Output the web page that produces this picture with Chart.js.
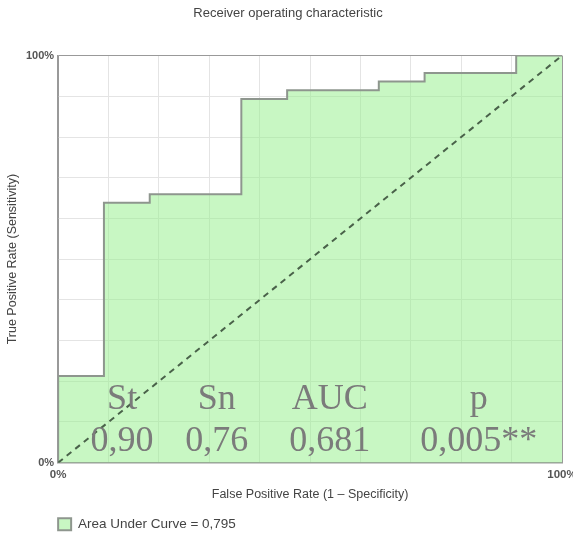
<!DOCTYPE html>
<html>
<head>
<meta charset="utf-8">
<script src="https://cdn.jsdelivr.net/npm/chart.js@4/dist/chart.umd.min.js"></script>
<style>
  html, body { margin: 0; padding: 0; background: #fff; }
  #wrap { width: 573px; height: 533px; }
</style>
</head>
<body>
<div id="wrap"><canvas id="chart"></canvas></div>
<script>
// ROC curve corners (percent), 11 negatives / 47 positives
var fpr = [0, 0, 9.09, 9.09, 18.18, 18.18, 36.36, 36.36, 45.45, 45.45, 63.64, 63.64, 72.73, 72.73, 90.91, 90.91, 100];
var tpr = [0, 21.28, 21.28, 63.83, 63.83, 65.96, 65.96, 89.36, 89.36, 91.49, 91.49, 93.62, 93.62, 95.74, 95.74, 100, 100];
var chanceX = [0, 100];
var chanceY = [0, 100];
var tickLabels = ['0%', '100%'];
var statNames = ['St', 'Sn', 'AUC', 'p'];
var statValues = ['0,90', '0,76', '0,681', '0,005**'];
var statCentersX = [12.7, 31.5, 53.9, 83.5]; // in % of false positive rate axis

var fontFamily = '"Liberation Sans", Arial, sans-serif';

// big serif stats written over the plot
var statsPlugin = {
    id: 'stats',
    afterDatasetsDraw: function(chart) {
        var ctx = chart.ctx;
        var xs = chart.scales.x;
        var ys = chart.scales.y;
        ctx.save();
        ctx.fillStyle = '#7b7b7b';
        ctx.font = '36px "Liberation Serif", "Times New Roman", serif';
        ctx.textAlign = 'center';
        ctx.textBaseline = 'alphabetic';
        for (var i = 0; i < statNames.length; i++) {
            var px = xs.getPixelForValue(statCentersX[i]);
            ctx.fillText(statNames[i], px, ys.getPixelForValue(13.2));
            ctx.fillText(statValues[i], px, ys.getPixelForValue(2.9));
        }
        ctx.restore();
    }
};

// shift the legend so it starts under the plot's left edge
var legendShift = {
    id: 'legendShift',
    afterLayout: function(chart) {
        chart.legend.left = chart.chartArea.left - chart.options.plugins.legend.labels.padding;
    }
};

var gridColor = function(c) {
    return (c.tick.value === 0 || c.tick.value === 100) ? '#999' : '#e4e4e4';
};
var tickText = function(v) {
    return v === 0 ? tickLabels[0] : (v === 100 ? tickLabels[1] : '');
};

new Chart(document.getElementById('chart'), {
    type: 'scatter',
    data: {
        datasets: [{
            label: 'Area Under Curve = 0,795',
            data: fpr.map(function(x, i) { return {x: x, y: tpr[i]}; }),
            showLine: true,
            fill: 'origin',
            backgroundColor: 'rgba(150, 240, 140, 0.52)',
            borderColor: '#8e968e',
            borderWidth: 2,
            pointRadius: 0,
            tension: 0,
            order: 1
        }, {
            label: 'chance',
            data: chanceX.map(function(x, i) { return {x: x, y: chanceY[i]}; }),
            showLine: true,
            fill: false,
            borderColor: '#4a624a',
            borderWidth: 2,
            borderDash: [6, 5],
            pointRadius: 0,
            order: 0
        }]
    },
    options: {
        responsive: true,
        maintainAspectRatio: false,
        animation: false,
        layout: { padding: { left: 3, right: 0, top: 4, bottom: -8 } },
        plugins: {
            title: {
                display: true,
                text: 'Receiver operating characteristic',
                color: '#444',
                font: { family: fontFamily, size: 13, weight: 'normal' },
                padding: { top: 2, bottom: 34 }
            },
            legend: {
                position: 'bottom',
                align: 'start',
                labels: {
                    filter: function(item) { return item.datasetIndex === 0; },
                    boxWidth: 13,
                    boxHeight: 12,
                    color: '#444',
                    padding: 4,
                    font: { family: fontFamily, size: 13.5 }
                }
            },
            tooltip: { enabled: false }
        },
        scales: {
            x: {
                type: 'linear',
                min: 0,
                max: 100,
                // let the "100%" label run off the right edge, as in the source
                afterFit: function(scale) { scale.paddingRight = 11; },
                border: { color: '#999', width: 1.5 },
                grid: { color: gridColor, drawTicks: false },
                ticks: {
                    stepSize: 10,
                    autoSkip: false,
                    maxRotation: 0,
                    padding: 5,
                    color: '#555',
                    font: { family: fontFamily, size: 11.5, weight: 'bold' },
                    callback: tickText
                },
                title: {
                    display: true,
                    text: 'False Positive Rate (1 – Specificity)',
                    color: '#444',
                    font: { family: fontFamily, size: 12.5 },
                    padding: { top: 1, bottom: 11 }
                }
            },
            y: {
                type: 'linear',
                min: 0,
                max: 100,
                border: { color: '#999', width: 1.5 },
                grid: { color: gridColor, drawTicks: false },
                ticks: {
                    stepSize: 10,
                    autoSkip: false,
                    padding: 4,
                    color: '#555',
                    font: { family: fontFamily, size: 11, weight: 'bold' },
                    callback: tickText
                },
                title: {
                    display: true,
                    text: 'True Positive Rate (Sensitivity)',
                    color: '#444',
                    font: { family: fontFamily, size: 12.5 },
                    padding: { top: 2, bottom: 2 }
                }
            }
        }
    },
    plugins: [statsPlugin, legendShift]
});
</script>
</body>
</html>
